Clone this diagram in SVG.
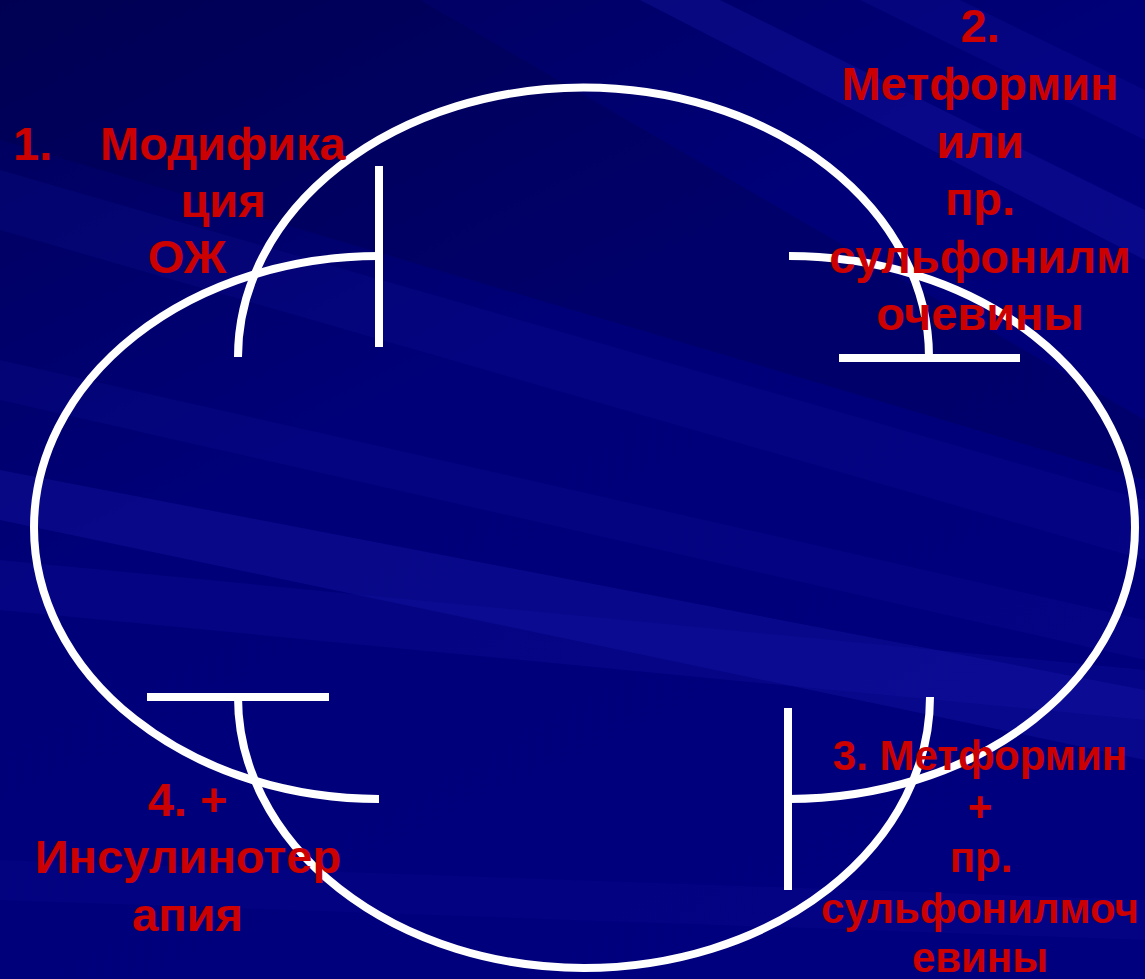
<svg xmlns="http://www.w3.org/2000/svg" width="1145" height="979" viewBox="0 0 1145 979">
  <defs>
    <linearGradient id="bg" x1="0" y1="0" x2="0.6" y2="1">
      <stop offset="0" stop-color="#00005a"/>
      <stop offset="0.45" stop-color="#000078"/>
      <stop offset="1" stop-color="#00007e"/>
    </linearGradient>
    <style>
      .arc { fill: none; stroke: #ffffff; stroke-width: 8; stroke-linecap: butt; }
      .lbl { font-family: "Liberation Sans", Arial, sans-serif; font-weight: bold; fill: #cc0000; }
      .c { text-anchor: middle; }
      .lite { fill: #1a1ab0; }
      .dark { fill: #000040; }
    </style>
  </defs>
  <g id="background">
    <rect x="0" y="0" width="1145" height="979" fill="url(#bg)"/>
    <polygon class="lite" opacity="0.3" points="0,470 0,520 1145,760 1145,690"/>
    <polygon class="lite" opacity="0.2" points="0,560 0,610 1145,720 1145,670"/>
    <polygon class="lite" opacity="0.3" points="640,0 720,0 1145,210 1145,260"/>
    <polygon class="lite" opacity="0.2" points="860,0 960,0 1145,90 1145,140"/>
    <polygon class="lite" opacity="0.15" points="0,170 0,230 1145,560 1145,500"/>
    <polygon class="dark" opacity="0.25" points="0,0 420,0 1145,420 1145,480 0,140"/>
    <polygon class="lite" opacity="0.12" points="0,860 0,900 1145,940 1145,900"/>
    <polygon class="lite" opacity="0.15" points="0,360 0,400 1145,660 1145,620"/>
  </g>
  <g id="connectors">
    <path class="arc" d="M379,256 A345,271.5 0 0 0 34,527.5 A345,271.5 0 0 0 379,799"/>
    <path class="arc" d="M238,357 A345.5,269.5 0 0 1 583.5,87.5 A345.5,269.5 0 0 1 929,357"/>
    <path class="arc" d="M789,256 A346,271.5 0 0 1 1135,527.5 A346,271.5 0 0 1 789,799"/>
    <path class="arc" d="M238,697 A346,271 0 0 0 584,968 A346,271 0 0 0 930,697"/>
    <line class="arc" x1="379" y1="166" x2="379" y2="347"/>
    <line class="arc" x1="839" y1="358" x2="1020" y2="358"/>
    <line class="arc" x1="788" y1="708" x2="788" y2="890"/>
    <line class="arc" x1="147" y1="697" x2="329" y2="697"/>
  </g>
  <g id="node1">
    <text class="lbl" font-size="47" x="13" y="160">1.</text>
    <text class="lbl" font-size="47" x="100" y="160">Модифика</text>
    <text class="lbl c" font-size="47" x="223" y="217">ция</text>
    <text class="lbl c" font-size="47" x="187" y="273">ОЖ</text>
  </g>
  <g id="node2">
    <text class="lbl c" font-size="47" x="980" y="42">2.</text>
    <text class="lbl c" font-size="47" x="980" y="100">Метформин</text>
    <text class="lbl c" font-size="47" x="980" y="158">или</text>
    <text class="lbl c" font-size="47" x="980" y="215">пр.</text>
    <text class="lbl c" font-size="47" x="980" y="273">сульфонилм</text>
    <text class="lbl c" font-size="47" x="980" y="330">очевины</text>
  </g>
  <g id="node3">
    <text class="lbl c" font-size="42" x="980" y="770">3. Метформин</text>
    <text class="lbl c" font-size="42" x="980" y="821">+</text>
    <text class="lbl c" font-size="42" x="981" y="872">пр.</text>
    <text class="lbl c" font-size="42" x="980" y="923">сульфонилмоч</text>
    <text class="lbl c" font-size="42" x="980" y="972">евины</text>
  </g>
  <g id="node4">
    <text class="lbl c" font-size="47" x="187.5" y="816">4. +</text>
    <text class="lbl c" font-size="47" x="188" y="873">Инсулинотер</text>
    <text class="lbl c" font-size="47" x="187.5" y="931">апия</text>
  </g>
</svg>
